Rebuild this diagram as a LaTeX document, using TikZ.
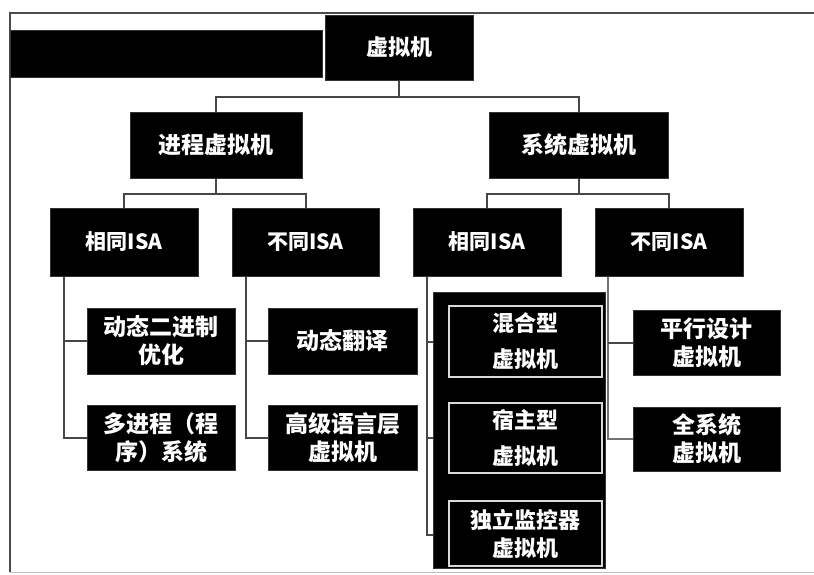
\documentclass[tikz,border=0pt]{standalone}
\usepackage{fontspec}
\newfontfamily\cjk{Noto Sans CJK SC}
\usetikzlibrary{calc}
\begin{document}
\begin{tikzpicture}[x=1pt,y=-1pt,
  blk/.style={fill=black,draw=black!80,line width=1pt,inner sep=0pt,text=white,
    font=\cjk\bfseries\fontsize{23}{28}\selectfont,align=center},
  midbox/.style={blk,font=\cjk\bfseries\fontsize{21}{26}\selectfont},
  inbox/.style={blk,draw=white!85!black,line width=1.6pt,font=\cjk\bfseries\fontsize{22}{36}\selectfont},
  conn/.style={draw=black!72,line width=2pt},
  frame/.style={draw=black!70,line width=1.4pt}]
\useasboundingbox (0,0) rectangle (814,574);
\fill[white] (0,0) rectangle (814,574);
% frame
\draw[frame] (814,13) -- (10,13) -- (10,572);
\draw[draw=black!25,line width=1pt] (10,572) -- (814,572);
% top row
\node[blk,minimum width=312,minimum height=47] (bar) at (166,53.5) {};
\node[blk,minimum width=148,minimum height=65,font=\cjk\bfseries\fontsize{22}{26}\selectfont] (root) at (399,47.5) {虚拟机};
% level 2
\node[blk,minimum width=172,minimum height=66] (pv) at (216,145) {进程虚拟机};
\node[blk,minimum width=179,minimum height=66] (sv) at (578.5,145) {系统虚拟机};
% level 3
\node[midbox,minimum width=148,minimum height=68] (l3a) at (124,242) {相同ISA};
\node[midbox,minimum width=147,minimum height=68] (l3b) at (305.5,242) {不同ISA};
\node[midbox,minimum width=148,minimum height=68] (l3c) at (487,242) {相同ISA};
\node[midbox,minimum width=148,minimum height=68] (l3d) at (669,242) {不同ISA};
% leaves
\node[blk,minimum width=148,minimum height=66] (leaf1) at (161,341) {动态二进制\\优化};
\node[blk,minimum width=148,minimum height=65] (leaf2) at (161,437.5) {多进程（程\\序）系统};
\node[blk,minimum width=149,minimum height=66] (leaf3) at (342.5,341) {动态翻译};
\node[blk,minimum width=149,minimum height=65] (leaf4) at (342.5,437.5) {高级语言层\\虚拟机};
\node[blk,minimum width=172,minimum height=276] (panel) at (519,430) {};
\node[inbox,minimum width=153,minimum height=71] (in1) at (525.5,341.5) {混合型\\虚拟机};
\node[inbox,minimum width=153,minimum height=70] (in2) at (525.5,438) {宿主型\\虚拟机};
\node[inbox,minimum width=153,minimum height=65,font=\cjk\bfseries\fontsize{22}{28}\selectfont] (in3) at (525.5,533.5) {独立监控器\\虚拟机};
\node[blk,minimum width=147,minimum height=65] (leaf5) at (706.5,342.5) {平行设计\\虚拟机};
\node[blk,minimum width=147,minimum height=64] (leaf6) at (706.5,439) {全系统\\虚拟机};
% connectors
\draw[conn] (root.south) -- ++(0,17);
\draw[conn] (pv.north) -- ++(0,-15) -| (sv.north);
\draw[conn] (pv.south) -- ++(0,16);
\draw[conn] (l3a.north) -- ++(0,-14) -| (l3b.north);
\draw[conn] (sv.south) -- ++(0,16);
\draw[conn] (l3c.north) -- ++(0,-14) -| (l3d.north);
% branches
\draw[conn] ($(l3a.south west)+(14,0)$) |- (leaf2.west);
\draw[conn] (leaf1.west) -- ++(-23,0);
\draw[conn] ($(l3b.south west)+(14,0)$) |- (leaf4.west);
\draw[conn] (leaf3.west) -- ++(-22,0);
\draw[conn] ($(l3c.south west)+(14,0)$) |- ($(panel.south west)+(0,-34)$);
\draw[conn] (in1.west -| panel.west) -- ++(-6,0);
\draw[conn] (in2.west -| panel.west) -- ++(-6,0);
\draw[conn,draw=black!55] ($(l3d.south west)+(13,0)$) |- (leaf6.west);
\draw[conn] (leaf5.west) -- ++(-25,0);
\end{tikzpicture}
\end{document}
